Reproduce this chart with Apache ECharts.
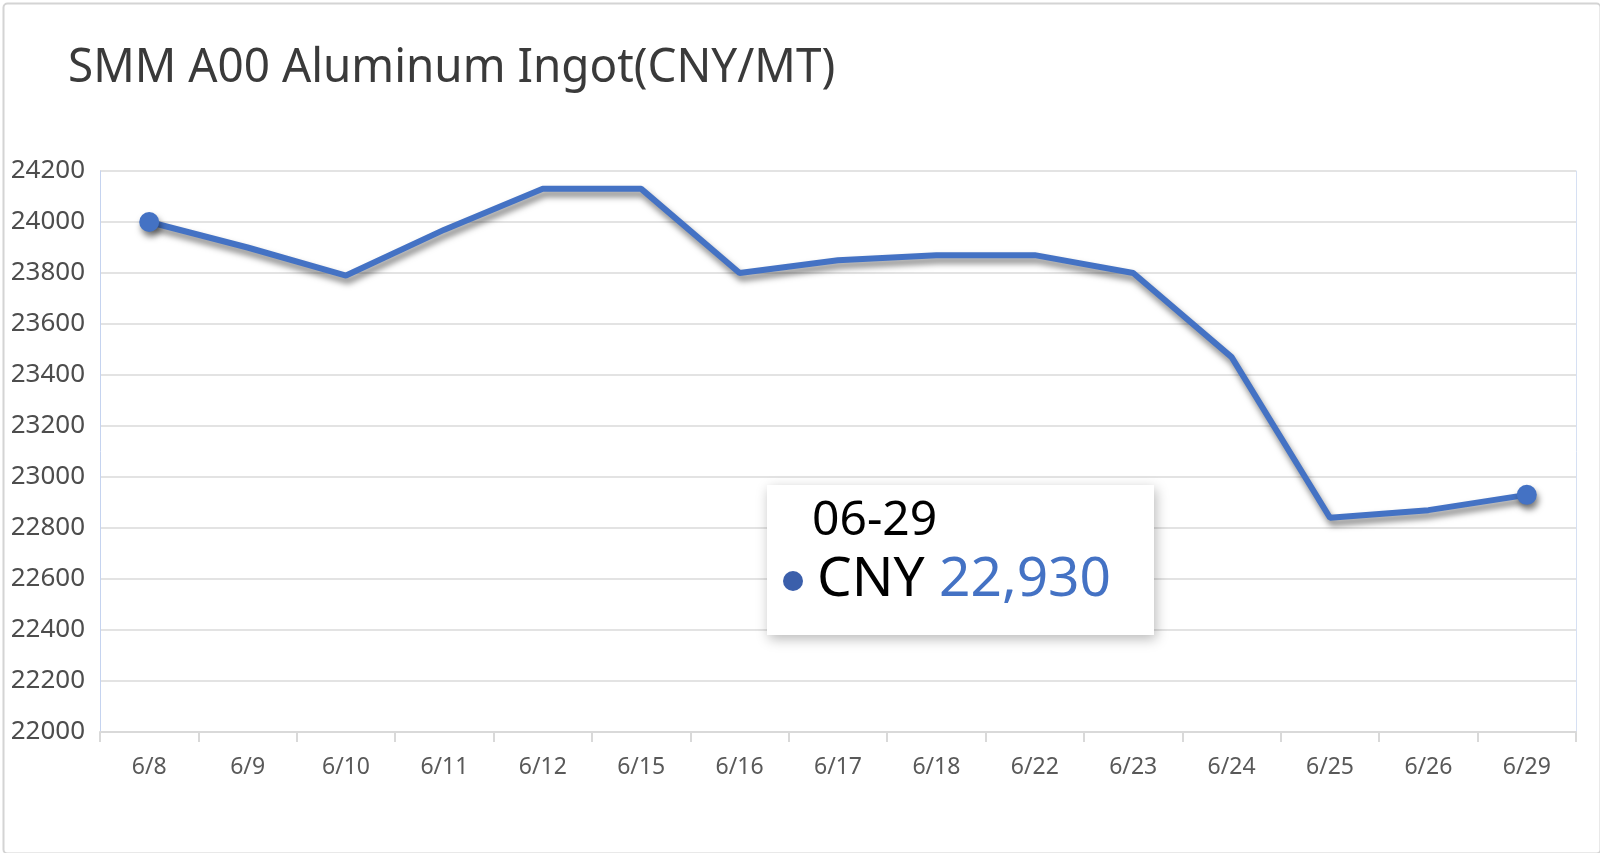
<!DOCTYPE html>
<html>
<head>
<meta charset="utf-8">
<script src="https://cdn.jsdelivr.net/npm/echarts@6/dist/echarts.min.js"></script>
<style>
html,body{margin:0;padding:0;background:#fff;}
#chart{width:1600px;height:853px;}
</style>
</head>
<body>
<div id="chart"></div>
<script>
const titleText = 'SMM A00 Aluminum Ingot(CNY/MT)';
const categories = ['6/8','6/9','6/10','6/11','6/12','6/15','6/16','6/17','6/18','6/22','6/23','6/24','6/25','6/26','6/29'];
const prices = [24000,23900,23790,23970,24130,24130,23800,23850,23870,23870,23800,23470,22840,22870,22930];
const yMin = 22000, yMax = 24200, yStep = 200;
const tipDate = '06-29';
const tipSeries = 'CNY';

const lineColor = '#4472c4';
const font = '"Noto Sans", "Open Sans", sans-serif';
const last = prices.length - 1;
const tipValue = prices[last].toLocaleString('en-US');

const chart = echarts.init(document.getElementById('chart'));
chart.setOption({
  backgroundColor: '#ffffff',
  animation: false,
  grid: {left: 100, right: 24, top: 171, bottom: 121},
  xAxis: {
    type: 'category',
    data: categories,
    boundaryGap: true,
    axisLine: {lineStyle: {color: '#d9d9d9', width: 2}},
    axisTick: {show: true, length: 10, lineStyle: {color: '#d9d9d9', width: 2}},
    axisLabel: {color: '#595959', fontSize: 23, fontFamily: font, margin: 24}
  },
  yAxis: [{
    type: 'value',
    min: yMin, max: yMax, interval: yStep,
    axisLine: {show: true, lineStyle: {color: '#c5d3ef', width: 1}},
    axisTick: {show: false},
    splitLine: {lineStyle: {color: '#e3e3e3', width: 2}},
    axisLabel: {color: '#4d4d4d', fontSize: 26, fontFamily: font, margin: 15, formatter: v => String(v)}
  }, {
    type: 'value', position: 'right',
    min: yMin, max: yMax, interval: yStep,
    axisLine: {show: true, lineStyle: {color: '#d6e0f3', width: 1}},
    axisTick: {show: false}, axisLabel: {show: false}, splitLine: {show: false}
  }],
  series: [{
    type: 'line',
    data: prices,
    symbol: 'circle',
    symbolSize: (v, p) => (p.dataIndex === 0 || p.dataIndex === last) ? 20 : 0,
    showAllSymbol: true,
    itemStyle: {color: lineColor, shadowColor: 'rgba(0,0,0,0.5)', shadowBlur: 6, shadowOffsetX: 2, shadowOffsetY: 5},
    lineStyle: {color: lineColor, width: 6, shadowColor: 'rgba(0,0,0,0.5)', shadowBlur: 6, shadowOffsetX: 2, shadowOffsetY: 5},
    z: 3
  }],
  graphic: [
    {
      type: 'text', x: 68, y: 68, scaleX: 0.955, z: 100,
      style: {text: titleText, fill: '#3a3a3a', fontSize: 48, fontFamily: font, verticalAlign: 'middle'}
    },
    {
      type: 'rect', left: 1, top: 1, z: 100,
      shape: {width: 1597, height: 850, r: 4},
      style: {fill: 'none', stroke: '#d4d4d4', lineWidth: 2}
    },
    {
      type: 'group', left: 767, top: 485, z: 100,
      children: [
        {type: 'rect', z: 100, shape: {x: 0, y: 0, width: 387, height: 150},
         style: {fill: '#fff', shadowColor: 'rgba(0,0,0,0.28)', shadowBlur: 12, shadowOffsetX: 2, shadowOffsetY: 4}},
        {type: 'text', z: 101, x: 45, y: 36,
         style: {text: tipDate, fill: '#000', fontSize: 48, fontFamily: font, verticalAlign: 'middle'}},
        {type: 'circle', z: 101, shape: {cx: 26, cy: 96, r: 10}, style: {fill: '#3b5fab'}},
        {type: 'text', z: 101, x: 50, y: 95,
         style: {
           text: '{a|' + tipSeries + ' }{b|' + tipValue + '}',
           verticalAlign: 'middle',
           rich: {
             a: {fontSize: 55, fontFamily: font, fill: '#000'},
             b: {fontSize: 55, fontFamily: font, fill: lineColor}
           }
         }}
      ]
    }
  ]
});
</script>
</body>
</html>
